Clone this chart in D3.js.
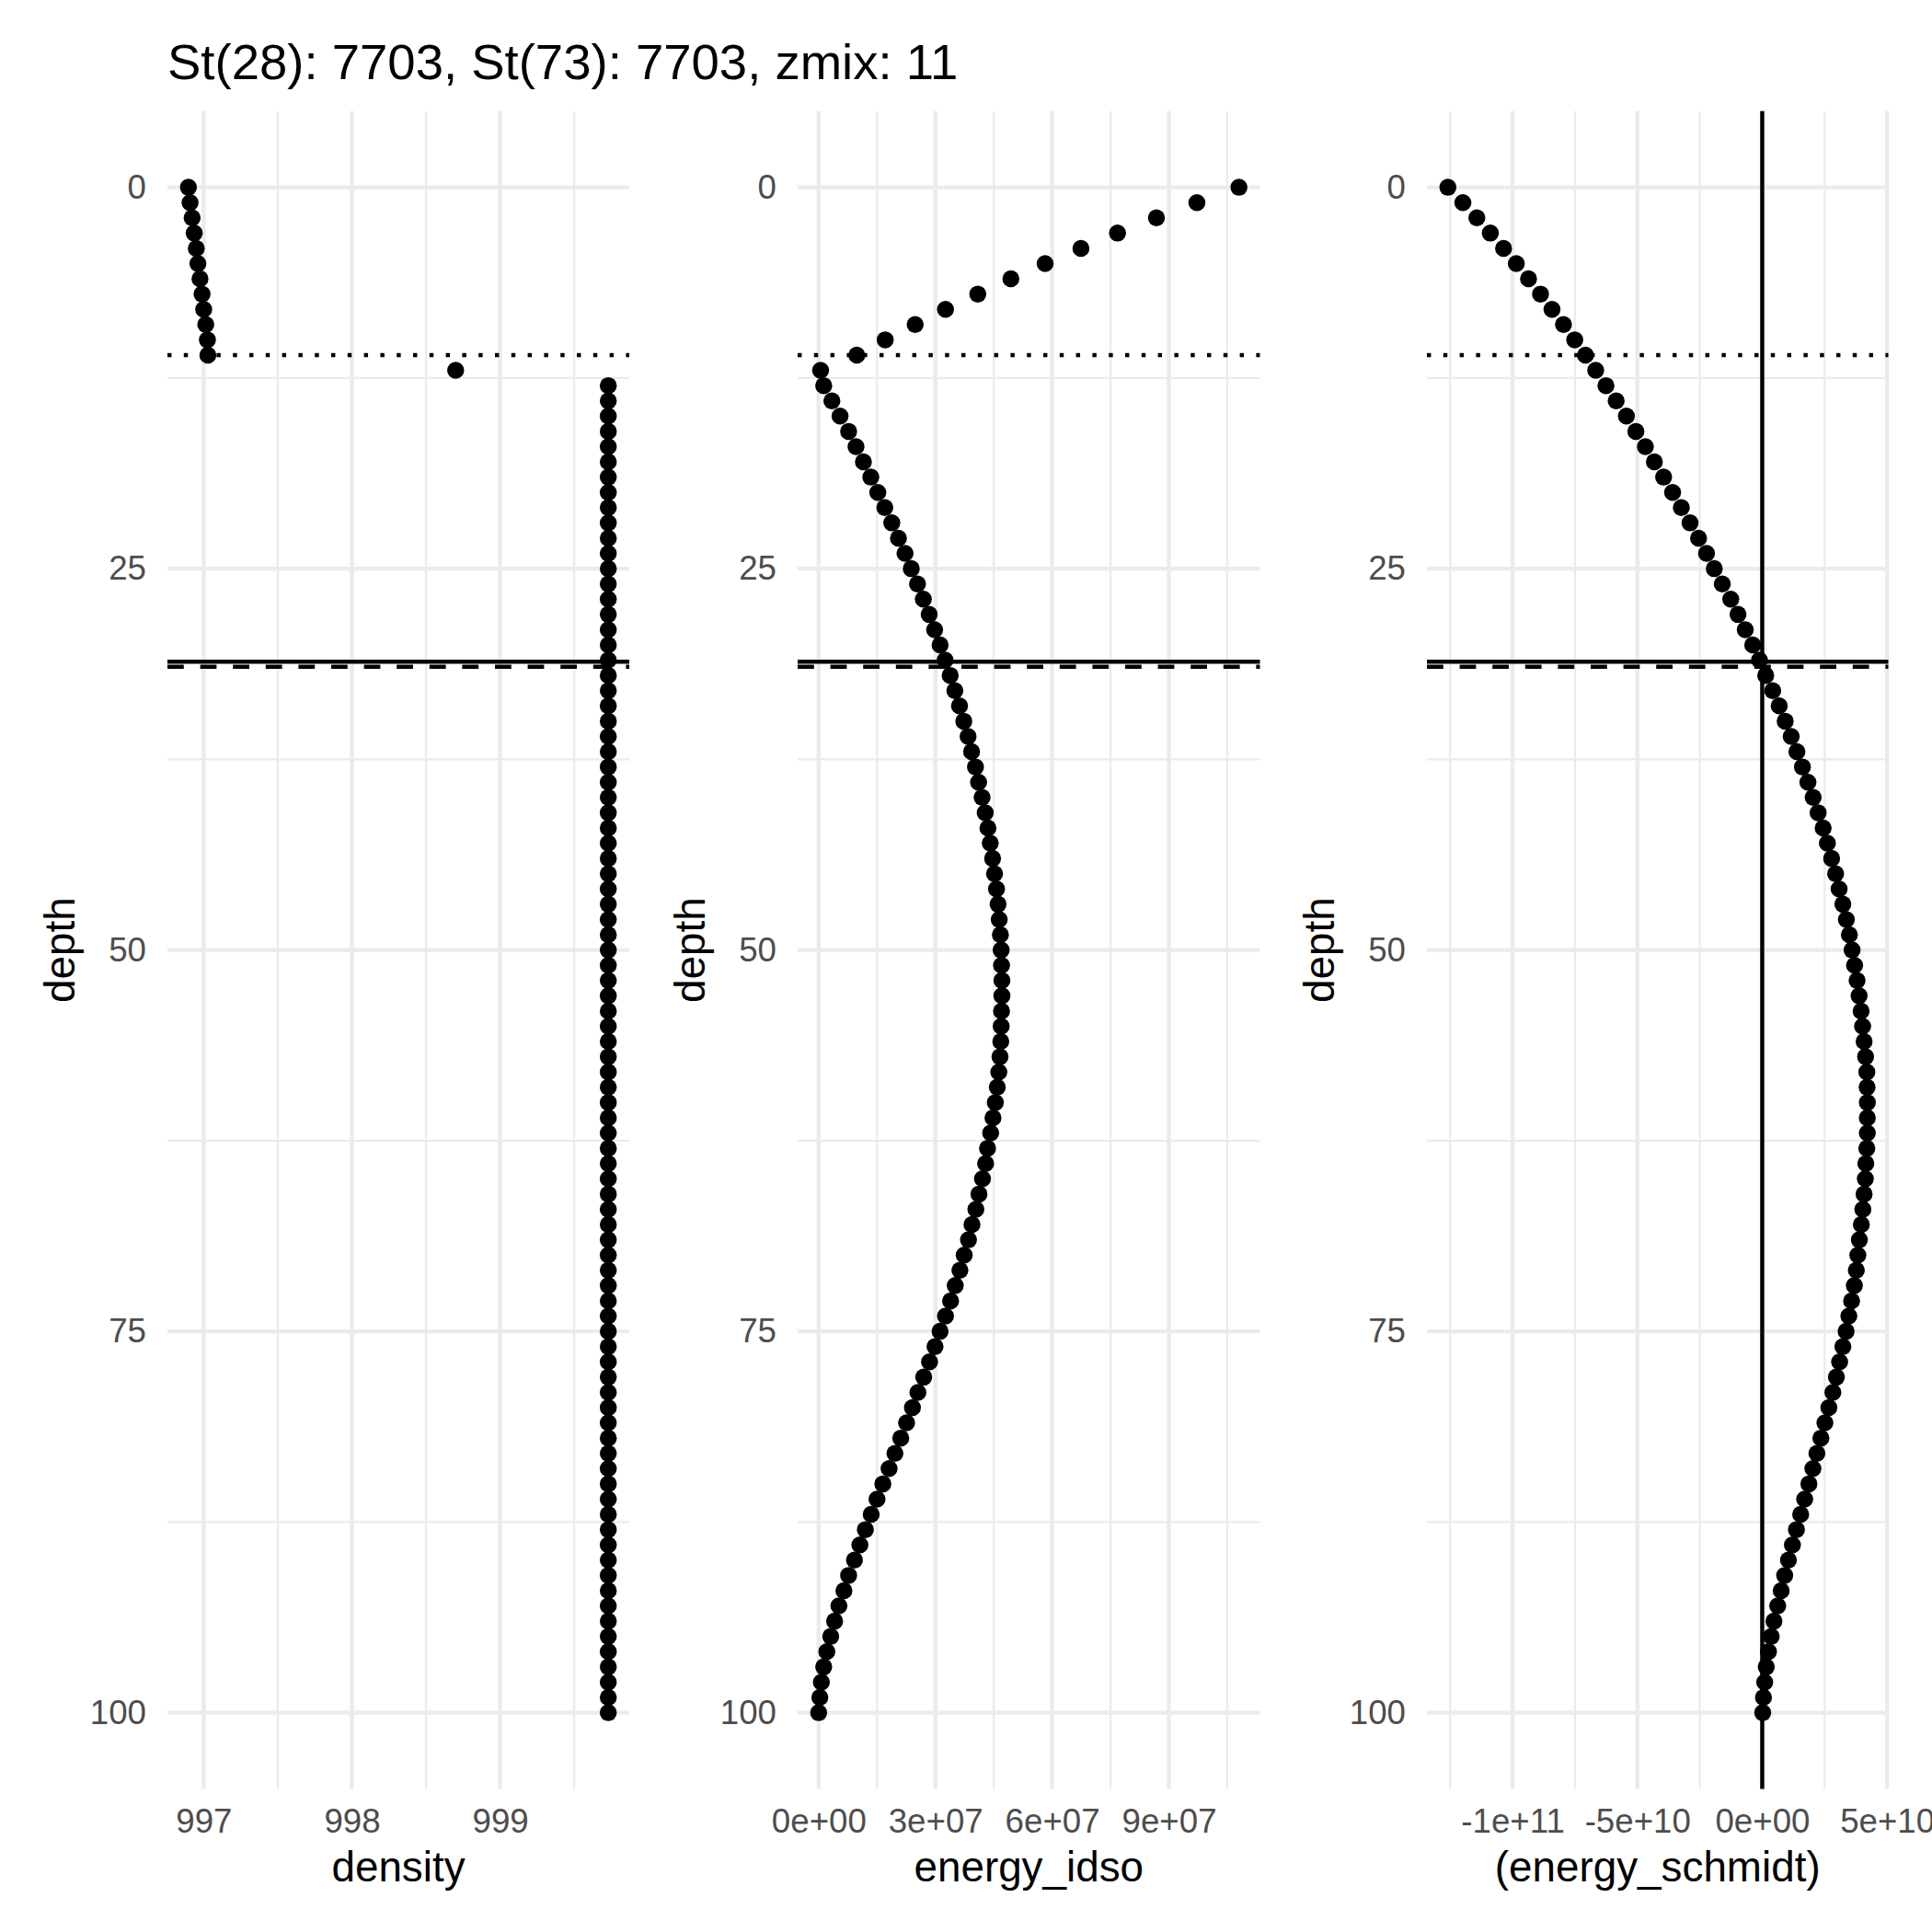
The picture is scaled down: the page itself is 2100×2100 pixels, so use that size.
<!DOCTYPE html>
<html>
<head>
<meta charset="utf-8">
<script src="https://cdn.jsdelivr.net/npm/d3@7"></script>
<style>
  html, body { margin: 0; padding: 0; background: #ffffff; }
  svg { display: block; }
  text { font-family: "Liberation Sans", Arial, Helvetica, sans-serif; }
</style>
</head>
<body>
<script>
// ---------------- DATA ----------------
const titleText = "St(28): 7703, St(73): 7703, zmix: 11";

const depth = [
  0,1,2,3,4,5,6,7,8,9,10,11,12,13,14,15,16,17,18,19,20,
  21,22,23,24,25,26,27,28,29,30,31,32,33,34,35,36,37,38,39,40,
  41,42,43,44,45,46,47,48,49,50,51,52,53,54,55,56,57,58,59,60,
  61,62,63,64,65,66,67,68,69,70,71,72,73,74,75,76,77,78,79,80,
  81,82,83,84,85,86,87,88,89,90,91,92,93,94,95,96,97,98,99,100
];

const density = [
  996.897, 996.908, 996.922, 996.936, 996.950, 996.961, 996.975, 996.989, 997.000, 997.014,
  997.025, 997.028, 998.700,
  999.73, 999.73, 999.73, 999.73, 999.73, 999.73, 999.73, 999.73,
  999.73, 999.73, 999.73, 999.73, 999.73, 999.73, 999.73, 999.73, 999.73, 999.73,
  999.73, 999.73, 999.73, 999.73, 999.73, 999.73, 999.73, 999.73, 999.73, 999.73,
  999.73, 999.73, 999.73, 999.73, 999.73, 999.73, 999.73, 999.73, 999.73, 999.73,
  999.73, 999.73, 999.73, 999.73, 999.73, 999.73, 999.73, 999.73, 999.73, 999.73,
  999.73, 999.73, 999.73, 999.73, 999.73, 999.73, 999.73, 999.73, 999.73, 999.73,
  999.73, 999.73, 999.73, 999.73, 999.73, 999.73, 999.73, 999.73, 999.73, 999.73,
  999.73, 999.73, 999.73, 999.73, 999.73, 999.73, 999.73, 999.73, 999.73, 999.73,
  999.73, 999.73, 999.73, 999.73, 999.73, 999.73, 999.73, 999.73, 999.73, 999.73
];

// energy_idso, in units of 1e7
const energyIdso = [
  10.80, 9.72, 8.68, 7.68, 6.74, 5.82, 4.94, 4.09, 3.26, 2.48, 1.71, 0.98, 0.05,
  0.13, 0.34, 0.55, 0.77, 0.96, 1.15, 1.34, 1.52,
  1.70, 1.88, 2.05, 2.22, 2.38, 2.54, 2.69, 2.84, 2.98, 3.12,
  3.25, 3.38, 3.50, 3.62, 3.73, 3.84, 3.93, 4.03, 4.11, 4.20,
  4.28, 4.35, 4.41, 4.47, 4.52, 4.57, 4.61, 4.64, 4.67, 4.69,
  4.70, 4.71, 4.71, 4.70, 4.69, 4.68, 4.66, 4.63, 4.59, 4.54,
  4.48, 4.42, 4.34, 4.29, 4.21, 4.12, 4.04, 3.94, 3.85, 3.74,
  3.63, 3.51, 3.39, 3.26, 3.12, 2.99, 2.85, 2.70, 2.55, 2.41,
  2.26, 2.11, 1.96, 1.81, 1.65, 1.50, 1.35, 1.20, 1.06, 0.92,
  0.77, 0.65, 0.52, 0.41, 0.31, 0.21, 0.13, 0.07, 0.03, 0.00
];
const idsoUnit = 1e7;

// energy_schmidt, in units of 1e10
const energySchmidt = [
  -12.59, -11.99, -11.43, -10.89, -10.36, -9.85, -9.36, -8.88, -8.42, -7.96,
  -7.51, -7.08, -6.67, -6.26, -5.85, -5.44, -5.06, -4.68, -4.32, -3.95, -3.59,
  -3.24, -2.89, -2.55, -2.23, -1.92, -1.60, -1.26, -0.97, -0.68, -0.38,
  -0.11, 0.14, 0.42, 0.68, 0.92, 1.16, 1.39, 1.61, 1.83, 2.04,
  2.24, 2.44, 2.61, 2.78, 2.94, 3.08, 3.23, 3.37, 3.49, 3.60,
  3.70, 3.80, 3.88, 3.96, 4.02, 4.08, 4.14, 4.19, 4.20, 4.21,
  4.21, 4.21, 4.19, 4.15, 4.13, 4.08, 4.03, 3.97, 3.89, 3.83,
  3.77, 3.69, 3.58, 3.47, 3.36, 3.23, 3.10, 2.97, 2.83, 2.67,
  2.51, 2.35, 2.19, 2.03, 1.87, 1.70, 1.54, 1.37, 1.21, 1.05,
  0.90, 0.76, 0.62, 0.47, 0.36, 0.25, 0.16, 0.10, 0.05, 0.02
];
const schmidtUnit = 1e10;

// reference lines (depths)
const zmixDepth = 11;          // dotted
const solidLineDepth = 31.1;   // solid
const dashedLineDepth = 31.43; // dashed
const schmidtZero = 0;         // vertical line in panel 3

// ticks
const depthTicks = [0, 25, 50, 75, 100];
const depthTickLabels = ["0", "25", "50", "75", "100"];
const depthMinor = [12.5, 37.5, 62.5, 87.5];

const densityTicks = [997, 998, 999];
const densityTickLabels = ["997", "998", "999"];
const densityMinor = [997.5, 998.5, 999.5];

const idsoTicks = [0, 3e7, 6e7, 9e7];
const idsoTickLabels = ["0e+00", "3e+07", "6e+07", "9e+07"];
const idsoMinor = [1.5e7, 4.5e7, 7.5e7, 10.5e7];

const schmidtTicks = [-1e11, -5e10, 0, 5e10];
const schmidtTickLabels = ["-1e+11", "-5e+10", "0e+00", "5e+10"];
const schmidtMinor = [-1.25e11, -7.5e10, -2.5e10, 2.5e10];

const xTitles = ["density", "energy_idso", "(energy_schmidt)"];
const yTitle = "depth";

// ---------------- LAYOUT ----------------
const W = 2100, H = 2100;
const panelTop = 120.7, panelBottom = 1944.5;
const panelX = [[182, 684], [867, 1369.5], [1551, 2052.5]];
const gridCol = "#EBEBEB";
const majorW = 4.45, minorW = 2.2;
const lineW = 4.45;
const pointR = 9.25;
const tickFont = 36.7, titleFont = 45.8, mainTitleFont = 54.5;

const svg = d3.select("body").append("svg")
  .attr("width", W).attr("height", H)
  .attr("viewBox", `0 0 ${W} ${H}`);
svg.append("rect").attr("width", W).attr("height", H).attr("fill", "#ffffff");

function expand(ext) {
  const w = ext[1] - ext[0];
  return [ext[0] - 0.05 * w, ext[1] + 0.05 * w];
}

const yScale = d3.scaleLinear()
  .domain(expand(d3.extent(depth)))
  .range([panelTop, panelBottom]);

const panels = [
  { values: density, ticks: densityTicks, labels: densityTickLabels, minor: densityMinor },
  { values: energyIdso.map(v => v * idsoUnit), ticks: idsoTicks, labels: idsoTickLabels, minor: idsoMinor },
  { values: energySchmidt.map(v => v * schmidtUnit), ticks: schmidtTicks, labels: schmidtTickLabels, minor: schmidtMinor, vline: schmidtZero }
];

panels.forEach((p, i) => {
  const [x0, x1] = panelX[i];
  const xScale = d3.scaleLinear().domain(expand(d3.extent(p.values))).range([x0, x1]);
  const g = svg.append("g");

  // minor grid
  g.selectAll(".hminor").data(depthMinor).enter().append("line")
    .attr("x1", x0).attr("x2", x1)
    .attr("y1", d => yScale(d)).attr("y2", d => yScale(d))
    .attr("stroke", gridCol).attr("stroke-width", minorW);
  g.selectAll(".vminor").data(p.minor).enter().append("line")
    .attr("x1", d => xScale(d)).attr("x2", d => xScale(d))
    .attr("y1", panelTop).attr("y2", panelBottom)
    .attr("stroke", gridCol).attr("stroke-width", minorW);
  // major grid
  g.selectAll(".hmajor").data(depthTicks).enter().append("line")
    .attr("x1", x0).attr("x2", x1)
    .attr("y1", d => yScale(d)).attr("y2", d => yScale(d))
    .attr("stroke", gridCol).attr("stroke-width", majorW);
  g.selectAll(".vmajor").data(p.ticks).enter().append("line")
    .attr("x1", d => xScale(d)).attr("x2", d => xScale(d))
    .attr("y1", panelTop).attr("y2", panelBottom)
    .attr("stroke", gridCol).attr("stroke-width", majorW);

  // reference lines
  const hl = [
    { d: zmixDepth, dash: "4.45,13.35" },
    { d: solidLineDepth, dash: null },
    { d: dashedLineDepth, dash: "17.8,17.8" }
  ];
  hl.forEach(h => {
    const ln = g.append("line")
      .attr("x1", x0).attr("x2", x1)
      .attr("y1", yScale(h.d)).attr("y2", yScale(h.d))
      .attr("stroke", "#000").attr("stroke-width", lineW)
      .attr("stroke-linecap", "butt");
    if (h.dash) ln.attr("stroke-dasharray", h.dash);
  });
  if (p.vline !== undefined) {
    g.append("line")
      .attr("x1", xScale(p.vline)).attr("x2", xScale(p.vline))
      .attr("y1", panelTop).attr("y2", panelBottom)
      .attr("stroke", "#000").attr("stroke-width", lineW);
  }

  // points
  g.selectAll("circle").data(depth).enter().append("circle")
    .attr("cx", (d, k) => xScale(p.values[k]))
    .attr("cy", d => yScale(d))
    .attr("r", pointR)
    .attr("fill", "#000");

  // x axis
  const xAxis = d3.axisBottom(xScale)
    .tickValues(p.ticks)
    .tickFormat((d, k) => p.labels[k])
    .tickSize(0).tickPadding(21);
  const xa = svg.append("g").attr("transform", `translate(0,${panelBottom})`).call(xAxis);
  xa.select(".domain").remove();
  xa.selectAll("text").attr("font-size", tickFont).attr("fill", "#4D4D4D")
    .attr("font-family", '"Liberation Sans", Arial, sans-serif');

  // y axis
  const yAxis = d3.axisLeft(yScale)
    .tickValues(depthTicks)
    .tickFormat((d, k) => depthTickLabels[k])
    .tickSize(0).tickPadding(23);
  const ya = svg.append("g").attr("transform", `translate(${x0},0)`).call(yAxis);
  ya.select(".domain").remove();
  ya.selectAll("text").attr("font-size", tickFont).attr("fill", "#4D4D4D")
    .attr("font-family", '"Liberation Sans", Arial, sans-serif');

  // axis titles
  svg.append("text")
    .attr("x", (x0 + x1) / 2).attr("y", 2045)
    .attr("text-anchor", "middle")
    .attr("font-size", titleFont).attr("fill", "#000")
    .text(xTitles[i]);
  const tx = x0 - 101;
  svg.append("text")
    .attr("transform", `translate(${tx},${(panelTop + panelBottom) / 2}) rotate(-90)`)
    .attr("text-anchor", "middle")
    .attr("font-size", titleFont).attr("fill", "#000")
    .text(yTitle);
});

// main title
svg.append("text")
  .attr("x", 182).attr("y", 86)
  .attr("font-size", mainTitleFont).attr("fill", "#000")
  .text(titleText);
</script>
</body>
</html>
